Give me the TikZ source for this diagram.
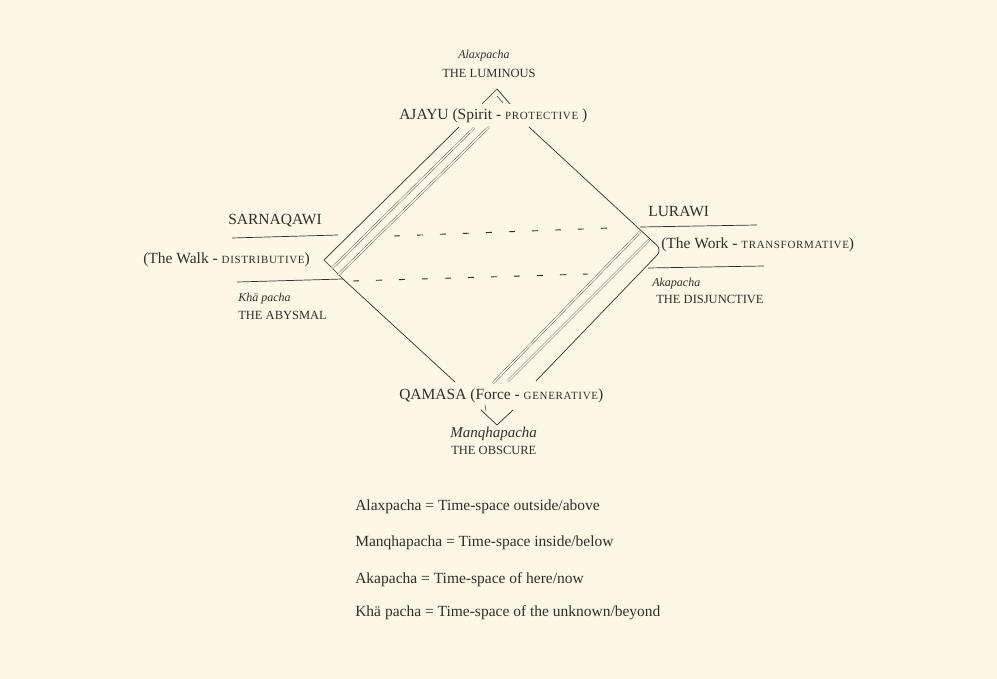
\documentclass[tikz,border=0pt]{standalone}
\usepackage{fontspec}
\setmainfont{Liberation Serif}
\newfontfamily\capsfont[LetterSpace=6]{Liberation Serif}
\usetikzlibrary{positioning,calc}
\definecolor{paper}{RGB}{252,248,229}
\definecolor{ink}{RGB}{48,46,42}
\newcommand{\sclab}[1]{{\capsfont\fontsize{11}{12}\selectfont #1}}
\tikzset{every picture/.style={line width=0.6pt}}
\tikzset{
  lbl/.style={inner sep=0pt, anchor=west, text=ink, font=\fontsize{15.5}{17}\selectfont},
  realm/.style={inner sep=0pt, anchor=west, text=ink, font=\fontsize{12}{14}\selectfont\itshape},
  realmcaps/.style={inner sep=0pt, anchor=west, text=ink, font=\fontsize{12.5}{14}\selectfont},
  edge/.style={draw=ink, line width=0.7pt},
  band/.style={draw=ink!85, double=paper, double distance=1.5pt, line width=0.45pt},
  hint/.style={draw=ink, line width=0.9pt, dash pattern=on 6pt off 17pt},
  legend/.style={inner sep=0pt, anchor=west, text=ink, font=\fontsize{15.5}{17}\selectfont},
}

\begin{document}
\begin{tikzpicture}[x=1pt,y=-1pt]
    % page
    \fill[paper] (0,0) rectangle (997,679);
    \useasboundingbox (0,0) rectangle (997,679);

    % corners of the diamond
    \coordinate (tl) at (459,127);
    \coordinate (tr) at (529,127);
    \coordinate (lv) at (324,260);
    \coordinate (lc) at (343,279);
    \coordinate (rv) at (662,250);
    \coordinate (bl) at (455,382);
    \coordinate (br) at (536,381);

    % outline edges
    \draw[edge] (tl) -- (lv) -- (lc) -- (bl);
    \draw[edge, rounded corners=7pt] (tr) -- (rv) -- (br);

    % double bands along the edges
    \draw[band] (474,128) -- (332,268);
    \draw[band] (489,127) -- (338,275);
    \draw[band] (640,232) -- (493,383);
    \draw[band] (649,240) -- (508,381);

    % side bars
    \draw[edge] (232,238) -- (338,235);
    \draw[edge] (237,282) -- (343,279);
    \draw[edge] (640,227) -- (757,225);
    \draw[edge] (648,268) -- (764,266);

    % dashed links
    \draw[hint] (394,236) -- (610,228);
    \draw[hint] (353,281) -- (588,274);

    % small carets
    \draw[edge] (482,104) -- (497,89) -- (510,104);
    \draw[edge, line width=0.5pt] (497,96) -- (503,103);
    \draw[edge] (481,410) -- (497,425) -- (513,410);
    \draw[edge, line width=0.5pt] (485,405) -- (486,411);

    % top
    \node[realm] (alax) at (458,56) {Alaxpacha};
    \node[realmcaps] (luminous) at (442,73) {THE LUMINOUS};
    \node[lbl] (ajayu) at (399,116) {AJAYU (Spirit - \sclab{PROTECTIVE} )};

    % left
    \node[lbl] (sarnaqawi) at (228,221) {SARNAQAWI};
    \node[lbl] (walk) at (143,260) {(The Walk - \sclab{DISTRIBUTIVE})};
    \node[realm] (khapacha) at (238,299) {Khä pacha};
    \node[realmcaps] (abysmal) at (238,315) {THE ABYSMAL};

    % right
    \node[lbl] (lurawi) at (648,212) {LURAWI};
    \node[lbl] (work) at (661,245) {(The Work - \sclab{TRANSFORMATIVE})};
    \node[realm] (akapacha) at (652,284) {Akapacha};
    \node[realmcaps] (disjunctive) at (656,299) {THE DISJUNCTIVE};

    % bottom
    \node[lbl] (qamasa) at (399,396) {QAMASA (Force - \sclab{GENERATIVE})};
    \node[realm, font=\fontsize{15}{16}\selectfont\itshape] (manqha) at (450,434) {Manqhapacha};
    \node[realmcaps] (obscure) at (451,450) {THE OBSCURE};

    % legend
    \node[legend] (key1) at (355,507) {Alaxpacha = Time-space outside/above};
    \node[legend] (key2) at (355,543) {Manqhapacha = Time-space inside/below};
    \node[legend] (key3) at (355,580) {Akapacha = Time-space of here/now};
    \node[legend] (key4) at (355,613) {Khä pacha = Time-space of the unknown/beyond};
\end{tikzpicture}
\end{document}
